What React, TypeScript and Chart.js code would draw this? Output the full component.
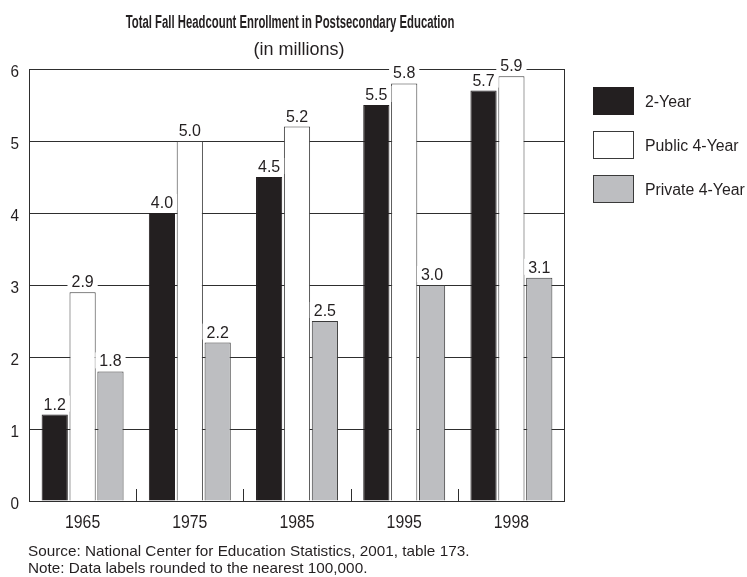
import React, { useEffect, useRef } from "react";
import { Chart, registerables } from "chart.js";

Chart.register(...registerables);

const categories = ["1965", "1975", "1985", "1995", "1998"];
const seriesNames = ["2-Year", "Public 4-Year", "Private 4-Year"];
const twoYear = [1.2, 4.0, 4.5, 5.5, 5.7];
const public4 = [2.9, 5.0, 5.2, 5.8, 5.9];
const private4 = [1.8, 2.2, 2.5, 3.0, 3.1];
const yMin = 0;
const yMax = 6;
const yStep = 1;
const titleText = "Total Fall Headcount Enrollment in Postsecondary Education";
const subtitleText = "(in millions)";
const footerLines = [
  "Source: National Center for Education Statistics, 2001, table 173.",
  "Note: Data labels rounded to the nearest 100,000.",
];

const FONT = "'Liberation Sans', Arial, sans-serif";
const INK = "#231f20";
const LINE = "#2e2e2e";

function drawText(ctx: any, text: string, x: number, y: number, font: string, sx: number, align: string) {
  ctx.save();
  ctx.font = font;
  ctx.textAlign = align;
  ctx.textBaseline = "alphabetic";
  ctx.translate(x, y);
  ctx.scale(sx, 1);
  ctx.fillText(text, 0, 0);
  ctx.restore();
}

const decorPlugin = {
  id: "decor",
  afterDatasetsDraw(chart: any) {
    const { ctx, chartArea } = chart;
    const { left, right, top, bottom } = chartArea;
    ctx.save();
    ctx.strokeStyle = LINE;
    ctx.lineWidth = 1;
    ctx.strokeRect(Math.round(left) + 0.5, Math.round(top) + 0.5, Math.round(right - left) - 1, Math.round(bottom - top));
    const xs = chart.scales.x;
    const ys = chart.scales.y;
    for (let i = 1; i < categories.length; i++) {
      const x = Math.round((xs.getPixelForValue(i - 1) + xs.getPixelForValue(i)) / 2) + 0.5;
      ctx.beginPath();
      ctx.moveTo(x, Math.round(bottom));
      ctx.lineTo(x, Math.round(bottom) - 12);
      ctx.stroke();
    }
    // axis tick labels, positioned by the chart's scales
    ctx.fillStyle = INK;
    xs.ticks.forEach((t: any, i: number) => {
      drawText(ctx, String(xs.getLabelForValue(t.value)), xs.getPixelForTick(i), bottom + 27, `18px ${FONT}`, 0.88, "center");
    });
    ys.ticks.forEach((t: any, i: number) => {
      drawText(ctx, String(t.value), left - 10, ys.getPixelForTick(i) + 8, `17px ${FONT}`, 0.9, "right");
    });
    // data labels
    const lf = `17px ${FONT}`;
    const lsx = 0.94;
    chart.data.datasets.forEach((ds: any, di: number) => {
      const meta = chart.getDatasetMeta(di);
      meta.data.forEach((bar: any, i: number) => {
        const txt = Number(ds.data[i]).toFixed(1);
        ctx.font = lf;
        const w = ctx.measureText(txt).width * lsx;
        const by = bar.y - 5;
        ctx.fillStyle = "#ffffff";
        ctx.fillRect(bar.x - w / 2 - 4, by - 14, w + 8, 16);
        ctx.fillStyle = INK;
        drawText(ctx, txt, bar.x, by, lf, lsx, "center");
      });
    });
    ctx.restore();
  },
  afterDraw(chart: any) {
    const { ctx } = chart;
    ctx.save();
    ctx.fillStyle = INK;
    drawText(ctx, titleText, 290, 28, `bold 18px ${FONT}`, 0.63, "center");
    drawText(ctx, subtitleText, 299, 55, `18px ${FONT}`, 1.0, "center");
    footerLines.forEach((t, i) => drawText(ctx, t, 28, 556 + i * 17, `15px ${FONT}`, 1.02, "left"));
    chart.data.datasets.forEach((ds: any, i: number) => {
      const y = 87 + i * 44;
      ctx.fillStyle = ds.backgroundColor;
      ctx.fillRect(593, y, 41, 28);
      ctx.strokeStyle = ds.borderColor;
      ctx.lineWidth = 1;
      ctx.strokeRect(593.5, y + 0.5, 40, 27);
      ctx.fillStyle = INK;
      drawText(ctx, ds.label, 645, y + 20, `16px ${FONT}`, 0.99, "left");
    });
    ctx.restore();
  },
};

export default function App() {
  const ref = useRef<HTMLCanvasElement | null>(null);
  useEffect(() => {
    document.body.style.margin = "0";
    const canvas = ref.current;
    if (!canvas) return;
    const chart = new Chart(canvas, {
      type: "bar",
      data: {
        labels: categories,
        datasets: [
          { label: seriesNames[0], data: twoYear, backgroundColor: INK, borderColor: INK, borderWidth: 1 },
          { label: seriesNames[1], data: public4, backgroundColor: "#ffffff", borderColor: "#3a3a3a", borderWidth: 1 },
          { label: seriesNames[2], data: private4, backgroundColor: "#bdbec1", borderColor: "#3a3a3a", borderWidth: 1 },
        ],
      },
      options: {
        responsive: false,
        animation: false,
        devicePixelRatio: 1,
        layout: { padding: { top: 69, left: 0, right: 182, bottom: 36 } },
        datasets: { bar: { categoryPercentage: 0.78, barPercentage: 0.94 } },
        plugins: { legend: { display: false }, title: { display: false }, tooltip: { enabled: false } },
        scales: {
          x: {
            type: "category",
            offset: true,
            grid: { display: false, drawTicks: false },
            border: { display: false },
            ticks: { display: false },
            afterFit: (s: any) => { s.height = 40; },
          },
          y: {
            min: yMin,
            max: yMax,
            grid: { color: LINE, lineWidth: 1, drawTicks: false },
            border: { display: false },
            ticks: { display: false, stepSize: yStep },
            afterFit: (s: any) => { s.width = 29; },
          },
        },
      },
      plugins: [decorPlugin],
    });
    return () => chart.destroy();
  }, []);
  return <canvas ref={ref} width={747} height={577} style={{ display: "block" }} />;
}
